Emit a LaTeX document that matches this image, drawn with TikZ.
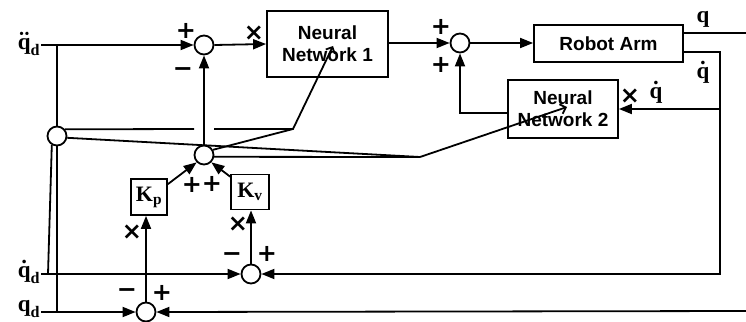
\documentclass[tikz,border=0pt]{standalone}
\usepackage{amsmath}
\usepackage{amssymb}
\usepackage[no-math]{fontspec}
\setmainfont{Liberation Sans}
\newfontfamily\signfont{DejaVu Sans}
\newfontfamily\qfont{Liberation Serif}
\newcommand{\bq}{\text{\qfont\bfseries q}}
\newcommand{\bd}{\text{\qfont\bfseries d}}
\newcommand{\bK}[1]{\text{\qfont\bfseries K}_{\text{\qfont\bfseries #1}}}
\usetikzlibrary{arrows.meta}

\begin{document}
\begin{tikzpicture}[x=1pt,y=-1pt,line width=1.8pt,
  sumnode/.style={draw,circle,fill=white,minimum size=19pt,inner sep=0pt},
  netbox/.style={draw,fill=white,align=center,inner sep=0pt,
    font=\fontsize{19}{22}\selectfont\bfseries},
  gainbox/.style={draw,fill=white,inner sep=0pt,
    font=\fontsize{22}{24}\selectfont\boldmath},
  sig/.style={inner sep=0pt,font=\signfont\bfseries\fontsize{24}{24}\selectfont},
  lbl/.style={inner sep=0pt,font=\fontsize{23}{25}\selectfont\boldmath},
  flow/.style={-{Triangle[length=13pt,width=10pt]}},
  tune/.style={-{Straight Barb[length=5pt,width=10pt]}}]
\useasboundingbox (0,0) rectangle (746,321);
% junction points
\coordinate (j0) at (48,274);
\coordinate (j1) at (293,129);
\coordinate (j2) at (420,157);
\coordinate (t1) at (333,46);
\coordinate (t2) at (567,107);
\coordinate (fb) at (720,52);
\coordinate (qout) at (746,33);
\coordinate (qin) at (746,311);
% inputs
\node[lbl,anchor=east] (qddl) at (41,44) {$\ddot{\bq}_{\bd}$};
\node[lbl,anchor=east] (qdl1) at (41,272) {$\dot{\bq}_{\bd}$};
\node[lbl,anchor=east] (qdl0) at (41,309) {$\bq_{\bd}$};
% blocks
\node[sumnode] (sum1) at (204,45) {};
\node[netbox,minimum width=121pt,minimum height=66pt] (nn1) at (327.5,44) {Neural\\Network 1};
\node[sumnode] (sum5) at (460,43) {};
\node[netbox,minimum width=149pt,minimum height=37pt] (arm) at (608.5,43.5) {Robot Arm};
\node[netbox,minimum width=110pt,minimum height=58pt] (nn2) at (563,109) {Neural\\Network 2};
\node[sumnode] (mux) at (57,136) {};
\draw (mux.-10) -- (j2);
\node[sumnode] (sum3) at (204,155) {};
\node[gainbox,minimum size=36pt] (kp) at (149,197) {$\bK{p}$};
\node[gainbox,minimum width=38pt,minimum height=35pt] (kv) at (250,192) {$\bK{v}$};
\node[sumnode] (sum2) at (251,274) {};
\node[sumnode] (sum4) at (146,312) {};
% forward path
\draw[flow] (qddl.east |- sum1) -- (sum1.west);
\draw[flow] (sum1.east) -- (nn1.west);
\draw[flow] (nn1.east |- sum5) -- (sum5.west);
\draw[flow] (sum5.east) -- (arm.west |- sum5);
\draw (arm.east |- qout) -- (qout);
\draw[flow] (arm.east |- fb) -- (fb) -- (fb |- sum2) -- (sum2.east);
\draw[flow] (fb |- nn2.east) -- (nn2.east);
\draw[flow] ([yshift=-4pt]nn2.west) -| (sum5.south);
\draw[flow] (qin) -- (sum4.east);
% error signals
\draw (sum1 -| mux) -- (mux.north);
\draw (sum4 -| mux) -- (mux.south);
\draw (j0) -- (mux.240);
\draw[flow] (qdl1.east |- sum2) -- (sum2.west);
\draw[flow] (qdl0.east |- sum4) -- (sum4.west);
\draw[flow] (sum4.north) -- (sum4.north |- kp.south);
\draw[flow] (sum2.north) -- (sum2.north |- kv.south);
\draw[flow] ([yshift=-6pt]kp.north east) -- (sum3.225);
\draw[flow] ([yshift=-3pt]kv.north west) -- (sum3.-45);
\draw[flow] (sum3.north) -- (sum1.south);
% network inputs
\draw (mux.40) -- ([xshift=-10pt]sum1 |- j1);
\draw[tune] ([xshift=10pt]sum1 |- j1) -- (j1) -- (t1);
\draw (sum3.30) -- (j1);
\draw (sum3.-10) -- (j2);
\draw[tune] (j2) -- (t2);
% signs
\node[sig] (s1p) at (186,31) {+};
\node[sig] (s1m) at (183,72) {−};
\node[sig] (n1x) at (254,33) {×};
\node[sig] (s5a) at (441,27) {+};
\node[sig] (s5b) at (441,65) {+};
\node[sig] (s3a) at (192,185) {+};
\node[sig] (s3b) at (212,184) {+};
\node[sig] (kpx) at (132,232) {×};
\node[sig] (kvx) at (238,224) {×};
\node[sig] (s2m) at (232,257) {−};
\node[sig] (s2p) at (267,254) {+};
\node[sig] (s4m) at (127,293) {−};
\node[sig] (s4p) at (162,293) {+};
\node[sig] (n2x) at (630,96) {×};
\node[lbl] (n2q) at (656,92) {$\dot{\bq}$};
\node[lbl] (ql) at (703,19) {$\bq$};
\node[lbl] (qdl) at (703,72) {$\dot{\bq}$};
\end{tikzpicture}
\end{document}
